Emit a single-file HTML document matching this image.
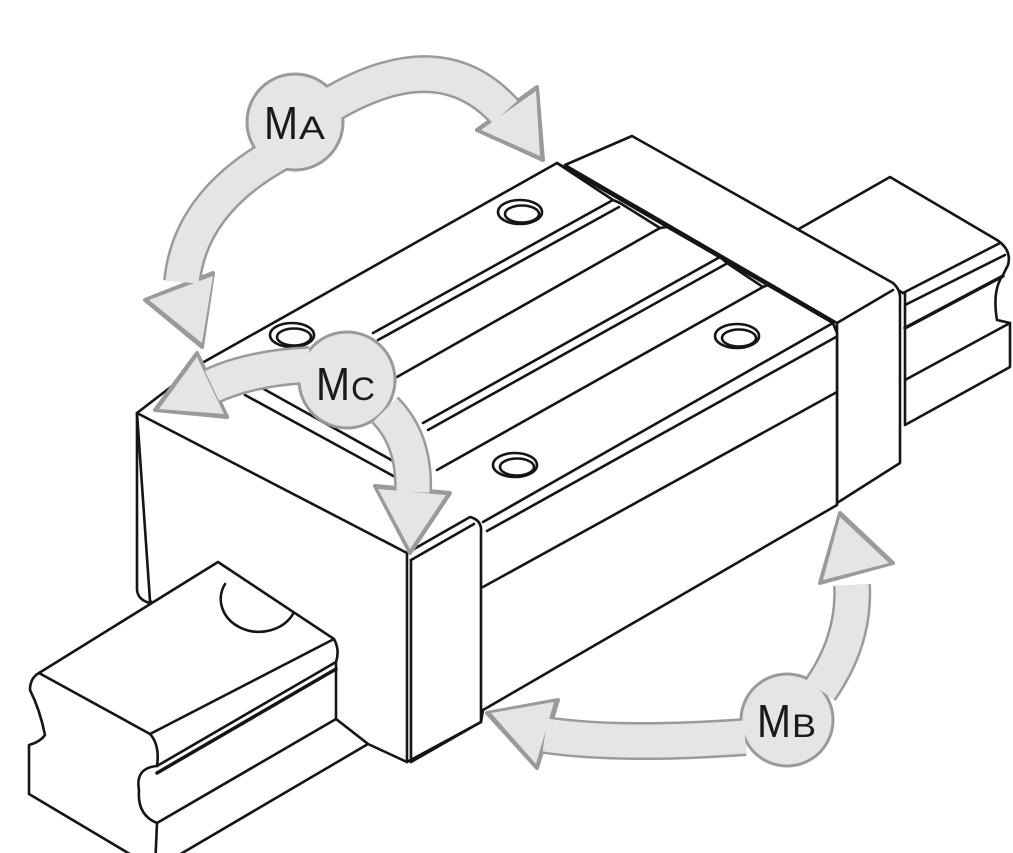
<!DOCTYPE html>
<html><head><meta charset="utf-8"><style>html,body{margin:0;padding:0;background:#fff}svg{display:block}</style></head>
<body>
<svg width="1013" height="853" viewBox="0 0 1013 853" xmlns="http://www.w3.org/2000/svg">
<rect width="1013" height="853" fill="#fff"/>
<g fill="#fff" stroke="#151515" stroke-width="2.6" stroke-linejoin="round" stroke-linecap="round">
<!-- right rail -->
<path d="M797,230 L890,177 L997,240 Q1012,250 1008,265 L1003,275 Q992,290 997,320 L1010,323 L1010,367 L905,425 L905,293 L903,293 Z"/>
<path d="M903,293 L1000,243" fill="none"/>
<path d="M905,305 L1005,255" fill="none"/>
<path d="M905,328 L1003,276" fill="none" stroke-width="3.5"/>
<path d="M905,380 L1010,323" fill="none"/>
<!-- rear plate -->
<path d="M565,165 L632,136 L893,283 Q901,290 900,300 L900,463 L837,503 L837,323 Z"/>
<path d="M837,323 L893,290" fill="none"/>
<!-- block top -->
<path d="M137,413 L202,363 L557,163 L833,323 L837,333 L837,505 L483,710 L481,722 L407,762 L368,744 L336,719 L150,601 Z"/>
<path d="M557,163 L613,200 L620,203 L660,228 L667,227 L720,257 L727,263 L763,287 L768,285 L833,323" fill="none"/>
<path d="M613,200 L373,333" fill="none"/>
<path d="M619,207 L378,340" fill="none"/>
<path d="M660,228 L397,377" fill="none"/>
<path d="M720,257 L423,423" fill="none"/>
<path d="M726,264 L428,430" fill="none"/>
<path d="M763,287 L437,470" fill="none"/>
<path d="M245,395 L397,478" fill="none"/>
<path d="M262,388 L402,466" fill="none"/>
<!-- block side -->
<path d="M483,522 L833,323" fill="none"/>
<path d="M487,531 L836,337" fill="none"/>
<path d="M483,587 L837,392" fill="none"/>
<!-- front face & plate -->
<path d="M137,413 L407,553 L407,762" fill="none"/>
<path d="M137,413 L137,590 Q138,600 150,603" fill="none"/>
<path d="M407,553 L470,517 Q482,520 481,532 L481,722 L411,762" fill="none"/>
<path d="M411,560 L411,762" fill="none"/>
<path d="M411,560 L474,524" fill="none"/>
<!-- left rail -->
<path d="M39,673 L218,562 L334,639 Q340,650 336,662 L336,719 L368,744 L155,869 L29,794 L29,745 Q40,742 45,735 Q40,710 30,690 Q30,678 39,673 Z"/>
<path d="M39,673 L150,734 Q160,745 157,766 L336,662" fill="none"/>
<path d="M157,773 L336,669" fill="none" stroke-width="3.5"/>
<path d="M157,766 Q135,768 139,790 Q137,815 157,823 L336,719" fill="none"/>
<path d="M157,823 L155,869" fill="none"/>
<path d="M150,734 L334,639" fill="none"/>
<path d="M225,584 A35,30 0 0 0 293,614" fill="none"/>
<!-- holes -->
<ellipse cx="520" cy="212" rx="22" ry="12"/><ellipse cx="522" cy="214" rx="17" ry="8.5"/>
<ellipse cx="292" cy="335" rx="22" ry="12"/><ellipse cx="294" cy="337" rx="17" ry="8.5"/>
<ellipse cx="737" cy="336" rx="22" ry="12"/><ellipse cx="739" cy="338" rx="17" ry="8.5"/>
<ellipse cx="515" cy="465" rx="22" ry="12"/><ellipse cx="517" cy="467" rx="17" ry="8.5"/>
</g>
<!-- arrows outline layer -->
<g stroke="#9a9a9a" fill="#9a9a9a" stroke-linejoin="round">
<g fill="none" stroke-width="38">
<path d="M285,150 Q190,200 182,282"/>
<path d="M330,105 Q440,40 505,112"/>
<path d="M310,365 Q250,368 212,386"/>
<path d="M385,410 Q415,440 413,492"/>
<path d="M745,737 Q620,746 545,735"/>
<path d="M820,690 Q855,640 852,585"/>
</g>
<circle cx="295" cy="122" r="49"/>
<circle cx="347" cy="380" r="49"/>
<circle cx="787" cy="720" r="47"/>
<g stroke-width="4">
<polygon points="213,273 202,347 145,300"/>
<polygon points="537,87 543,160 477,130"/>
<polygon points="197,353 155,410 227,417"/>
<polygon points="375,486 410,553 450,493"/>
<polygon points="558,700 487,713 537,768"/>
<polygon points="893,563 840,513 820,583"/>
</g>
</g>
<!-- arrows fill layer -->
<g stroke="#e5e5e5" fill="#e5e5e5" stroke-linejoin="round">
<g fill="none" stroke-width="33">
<path d="M285,150 Q190,200 182,282"/>
<path d="M330,105 Q440,40 505,112"/>
<path d="M310,365 Q250,368 212,386"/>
<path d="M385,410 Q415,440 413,492"/>
<path d="M745,737 Q620,746 545,735"/>
<path d="M820,690 Q855,640 852,585"/>
</g>
<circle cx="295" cy="122" r="46.5" stroke="none"/>
<circle cx="347" cy="380" r="46.5" stroke="none"/>
<circle cx="787" cy="720" r="44.5" stroke="none"/>
<g stroke="none">
<polygon points="213,276 202,343 149,300"/>
<polygon points="536,91 540,156 481,130"/>
<polygon points="197,357 159,409 224,414"/>
<polygon points="378,489 410,549 446,495"/>
<polygon points="554,702 491,713 536,764"/>
<polygon points="889,563 840,517 823,580"/>
</g>
</g>
<g font-family="Liberation Sans, sans-serif" fill="#1a1a1a">
<text x="264" y="139" font-size="46" textLength="34" lengthAdjust="spacingAndGlyphs">M</text>
<text x="299" y="139" font-size="32" textLength="26" lengthAdjust="spacingAndGlyphs">A</text>
<text x="316" y="400" font-size="46" textLength="34" lengthAdjust="spacingAndGlyphs">M</text>
<text x="351" y="400" font-size="32" textLength="24" lengthAdjust="spacingAndGlyphs">C</text>
<text x="757" y="737" font-size="46" textLength="34" lengthAdjust="spacingAndGlyphs">M</text>
<text x="792" y="737" font-size="32" textLength="24" lengthAdjust="spacingAndGlyphs">B</text>
</g>
</svg>
</body></html>
